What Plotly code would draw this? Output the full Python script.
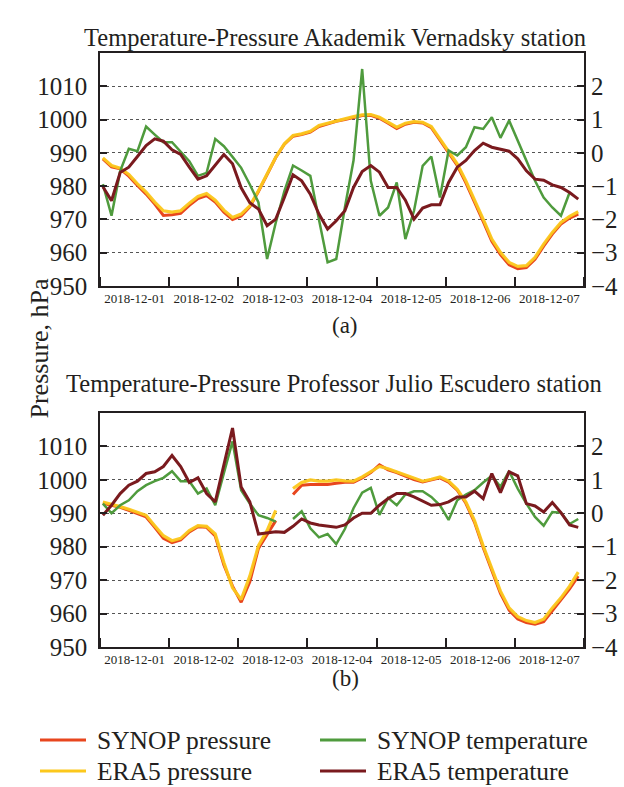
import pandas as pd
import plotly.graph_objects as go

# ---------------- data (3-hourly, 2018-12-01 01:00 .. 2018-12-07 22:00) ----------------
times = pd.date_range("2018-12-01 01:00", periods=56, freq="3h")

# Panel (a): Akademik Vernadsky
synop_p_a = [988.2, 985.8, 985.2, 983.0, 980.2, 977.6, 974.6, 971.2, 971.4, 971.8,
             974.2, 976.3, 977.2, 975.2, 972.2, 970.0, 971.0, 973.8, 978.4, 983.5,
             988.6, 992.6, 995.0, 995.5, 996.2, 997.9, 998.7, 999.5, 1000.0, 1000.7,
             1001.2, 1001.3, 1000.4, 998.9, 997.3, 998.6, 999.2, 999.0, 997.6, 993.8,
             989.9, 986.2, 981.0, 975.4, 969.4, 963.4, 959.4, 956.4, 955.2, 955.5,
             958.0, 962.0, 965.6, 968.6, 970.4, 971.6]
era5_p_a = [988.5, 986.2, 985.4, 983.5, 980.7, 978.2, 975.2, 972.6, 972.2, 972.6,
            974.9, 976.9, 977.8, 975.8, 972.8, 970.6, 971.6, 974.1, 978.6, 983.6,
            988.7, 992.7, 995.2, 995.7, 996.5, 998.2, 998.9, 999.7, 1000.2, 1000.9,
            1001.4, 1001.5, 1000.7, 999.2, 997.7, 998.9, 999.4, 999.2, 997.9, 994.2,
            990.4, 986.7, 981.6, 976.1, 970.1, 964.1, 960.1, 957.1, 955.9, 956.1,
            958.6, 962.6, 966.1, 969.1, 970.9, 972.3]
synop_t_a = [-0.94, -1.89, -0.55, 0.12, 0.05, 0.79, 0.55, 0.32, 0.32, 0.05,
             -0.25, -0.69, -0.60, 0.42, 0.20, -0.12, -0.45, -0.95, -1.49, -3.19,
             -2.10, -1.15, -0.38, -0.53, -0.69, -2.00, -3.29, -3.19, -1.64, -0.23,
             2.52, -0.84, -1.89, -1.64, -0.89, -2.59, -1.74, -0.39, -0.11, -1.34,
             0.07, -0.08, 0.17, 0.77, 0.72, 1.07, 0.45, 0.97, 0.37, -0.23,
             -0.84, -1.34, -1.64, -1.89, -1.19, None]
era5_t_a = [-1.02, -1.44, -0.59, -0.43, -0.11, 0.22, 0.42, 0.35, 0.09, -0.05,
            -0.43, -0.79, -0.69, -0.38, -0.05, -0.33, -1.05, -1.50, -1.69, -2.19,
            -1.99, -1.34, -0.66, -0.84, -1.24, -1.84, -2.29, -2.04, -1.74, -1.04,
            -0.56, -0.38, -0.58, -1.04, -1.04, -1.42, -1.99, -1.66, -1.56, -1.56,
            -0.89, -0.43, -0.23, 0.07, 0.29, 0.17, 0.10, 0.05, -0.18, -0.54,
            -0.79, -0.82, -0.96, -1.04, -1.19, -1.39]

# Panel (b): Professor Julio Escudero
synop_p_b = [993.0, 992.5, 991.8, 990.9, 990.0, 988.9, 985.8, 982.5, 981.2, 982.0,
             984.4, 986.0, 985.8, 983.2, 974.5, 968.2, 963.4, 969.5, 979.5, 983.5,
             987.8, None, 995.6, 998.4, 998.6, 998.5, 998.6, 999.0, 999.3, 999.3,
             1000.6, 1002.2, 1004.5, 1003.0, 1002.2, 1001.1, 1000.1, 999.4, 1000.0, 1000.6,
             999.3, 996.9, 993.0, 987.3, 979.8, 972.6, 966.0, 961.0, 958.4, 957.3,
             956.8, 957.6, 960.9, 963.9, 967.4, 971.2]
era5_p_b = [993.4, 992.8, 992.0, 991.2, 990.3, 989.4, 986.3, 983.3, 981.8, 982.5,
            984.8, 986.3, 986.1, 983.8, 975.3, 967.7, 964.2, 971.2, 980.3, 984.8,
            990.9, None, 997.4, 999.2, 1000.0, 999.6, 999.6, 1000.0, 999.7, 999.6,
            1000.9, 1002.4, 1004.0, 1003.3, 1002.4, 1001.4, 1000.4, 999.6, 1000.2, 1000.9,
            999.6, 997.2, 993.4, 987.8, 980.3, 973.2, 966.7, 961.7, 959.1, 957.9,
            957.3, 958.3, 961.7, 964.7, 968.2, 972.4]
synop_t_b = [0.29, 0.00, 0.24, 0.39, 0.66, 0.84, 0.96, 1.06, 1.26, 0.96,
             0.96, 0.59, 0.74, 0.24, 1.20, 2.15, 0.69, 0.29, -0.06, -0.14,
             -0.25, None, -0.17, 0.06, -0.45, -0.72, -0.62, -0.92, -0.47, 0.15,
             0.62, 0.76, -0.05, 0.46, 0.24, 0.56, 0.66, 0.66, 0.49, 0.24,
             -0.20, 0.39, 0.56, 0.69, 0.92, 1.12, 0.79, 1.26, 0.74, 0.29,
             -0.11, -0.37, 0.04, 0.02, -0.32, -0.17]
era5_t_b = [-0.06, 0.24, 0.59, 0.84, 0.96, 1.19, 1.24, 1.40, 1.73, 1.40,
            0.92, 1.06, 0.59, 0.34, 1.45, 2.55, 0.79, 0.34, -0.62, -0.59,
            -0.55, -0.57, -0.39, -0.17, -0.29, -0.35, -0.39, -0.42, -0.35, -0.14,
            0.00, 0.00, 0.24, 0.44, 0.59, 0.59, 0.49, 0.36, 0.24, 0.26,
            0.34, 0.49, 0.49, 0.66, 0.44, 1.19, 0.62, 1.24, 1.12, 0.29,
            0.22, 0.04, 0.32, 0.02, -0.35, -0.42]

titles = ["Temperature-Pressure Akademik Vernadsky station",
          "Temperature-Pressure Professor Julio Escudero station"]
panel_labels = ["(a)", "(b)"]
p_ticks = [950, 960, 970, 980, 990, 1000, 1010]
t_ticks = [-4, -3, -2, -1, 0, 1, 2]
names = ["SYNOP pressure", "SYNOP temperature", "ERA5 pressure", "ERA5 temperature"]

# ---------------- styles ----------------
C_SP = "#e8461e"
C_EP = "#fcc81c"
C_ST = "#4f9b3d"
C_ET = "#7a1a1e"
FONT = "Liberation Serif"
INK = "#231f20"

fig = go.Figure()

panels = [
    (synop_p_a, era5_p_a, synop_t_a, era5_t_a, "x", "y", "y2"),
    (synop_p_b, era5_p_b, synop_t_b, era5_t_b, "x2", "y3", "y4"),
]
for sp, ep, st, et, xa, ya_p, ya_t in panels:
    fig.add_trace(go.Scatter(x=times, y=sp, name=names[0], mode="lines",
                             line=dict(color=C_SP, width=3), xaxis=xa, yaxis=ya_p,
                             showlegend=False, connectgaps=False))
    fig.add_trace(go.Scatter(x=times, y=ep, name=names[2], mode="lines",
                             line=dict(color=C_EP, width=3.2), xaxis=xa, yaxis=ya_p,
                             showlegend=False, connectgaps=False, opacity=0.95))
    fig.add_trace(go.Scatter(x=times, y=st, name=names[1], mode="lines",
                             line=dict(color=C_ST, width=2.5), xaxis=xa, yaxis=ya_t,
                             showlegend=False, connectgaps=False))
    fig.add_trace(go.Scatter(x=times, y=et, name=names[3], mode="lines",
                             line=dict(color=C_ET, width=3), xaxis=xa, yaxis=ya_t,
                             showlegend=False, connectgaps=False))

# plot area in pixels: x 100..584, y 53..647
L, R, T, B = 100, 584, 53, 647
W, H = 624, 787

def px(X):
    return (X - L) / float(R - L)

def py(Y):
    return (B - Y) / float(B - T)

top_dom = [py(286), 1.0]
bot_dom = [0.0, py(413)]

def xaxis_cfg(anchor):
    return dict(anchor=anchor, domain=[0, 1], type="date",
                range=["2018-12-01", "2018-12-08"], tick0="2018-12-01", dtick=86400000,
                ticklabelmode="period", tickformat="%Y-%m-%d",
                ticks="inside", ticklen=9, tickwidth=1.6, tickcolor=INK,
                showline=True, linecolor=INK, linewidth=1.5, mirror=True,
                showgrid=False, zeroline=False,
                tickfont=dict(family=FONT, size=13, color=INK))

def p_axis(dom, anchor):
    return dict(domain=dom, anchor=anchor, range=[950, 1020], tickvals=p_ticks,
                showgrid=True, griddash="dot", gridcolor="#555", gridwidth=1,
                showline=True, linecolor=INK, linewidth=1.5, mirror=True,
                ticks="inside", ticklen=7, tickwidth=1.5, tickcolor=INK,
                ticklabelstandoff=6, zeroline=False,
                tickfont=dict(family=FONT, size=25, color=INK))

def t_axis(over, anchor):
    return dict(overlaying=over, anchor=anchor, side="right", range=[-4, 3],
                tickvals=t_ticks, showgrid=False, zeroline=False, showline=False,
                ticks="inside", ticklen=7, tickwidth=1.5, tickcolor=INK,
                ticklabelstandoff=6,
                tickfont=dict(family=FONT, size=25, color=INK))

annotations = [
    dict(text=titles[0], x=px(335), y=py(22), xref="paper", yref="paper",
         showarrow=False, font=dict(family=FONT, size=24.5, color=INK)),
    dict(text=titles[1], x=px(334), y=py(383), xref="paper", yref="paper",
         showarrow=False, font=dict(family=FONT, size=24.5, color=INK)),
    dict(text=panel_labels[0], x=px(345), y=py(325), xref="paper", yref="paper",
         showarrow=False, font=dict(family=FONT, size=23, color=INK)),
    dict(text=panel_labels[1], x=px(345), y=py(693), xref="paper", yref="paper",
         showarrow=False, font=dict(family=FONT, size=23, color=INK)),
    dict(text="Pressure, hPa", x=px(22), y=py(348), xref="paper", yref="paper",
         textangle=-90, showarrow=False, font=dict(family=FONT, size=26, color=INK)),
]

# legend drawn as sample lines + labels below the panels
legend_items = [
    (names[0], C_SP, 40, 740),
    (names[1], C_ST, 320, 740),
    (names[2], C_EP, 40, 771),
    (names[3], C_ET, 320, 771),
]
shapes = []
for label, color, X, Y in legend_items:
    shapes.append(dict(type="line", xref="paper", yref="paper",
                       x0=px(X), x1=px(X + 46), y0=py(Y), y1=py(Y),
                       line=dict(color=color, width=3)))
    annotations.append(dict(text=label, x=px(X + 55), y=py(Y), xref="paper", yref="paper",
                            xanchor="left", yanchor="middle", showarrow=False,
                            font=dict(family=FONT, size=25.5, color=INK)))

fig.update_layout(
    width=W, height=H,
    margin=dict(l=L, r=W - R, t=T, b=H - B, autoexpand=False),
    paper_bgcolor="white", plot_bgcolor="white",
    xaxis=xaxis_cfg("y"),
    xaxis2=xaxis_cfg("y3"),
    yaxis=p_axis(top_dom, "x"),
    yaxis2=t_axis("y", "x"),
    yaxis3=p_axis(bot_dom, "x2"),
    yaxis4=t_axis("y3", "x2"),
    annotations=annotations,
    shapes=shapes,
    showlegend=False,
)

fig.write_html("out.html",
               config={"displayModeBar": False},
               post_script="document.body.style.margin='0px';")
